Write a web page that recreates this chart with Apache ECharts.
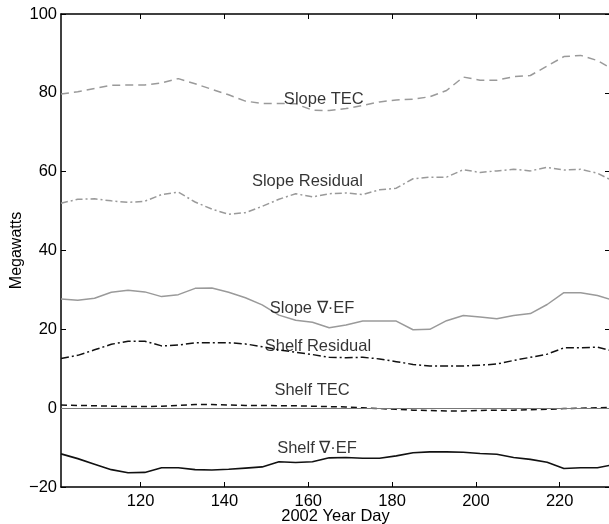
<!DOCTYPE html>
<html>
<head>
<meta charset="utf-8">
<script src="https://cdn.jsdelivr.net/npm/echarts@6/dist/echarts.min.js"></script>
<style>
  html, body { margin: 0; padding: 0; background: #fff; }
  #chart { width: 609px; height: 524px; }
</style>
</head>
<body>
<div id="chart"></div>
<script>
// Energy budget terms, every 4 days of 2002
const days = [101,105,109,113,117,121,125,129,133,137,141,145,149,153,157,161,165,169,173,177,181,185,189,193,197,201,205,209,213,217,221,225,229,233];

const slopeTEC      = [79.7,80.3,81.1,81.9,82.0,82.0,82.5,83.6,82.3,80.9,79.5,77.9,77.3,77.3,77.2,75.6,75.5,76.0,76.8,77.7,78.2,78.4,79.0,80.6,84.0,83.2,83.2,84.1,84.4,86.8,89.2,89.5,88.2,85.8];
const slopeResidual = [52.0,53.0,53.1,52.6,52.2,52.5,54.2,54.8,52.3,50.5,49.2,49.6,51.2,53.0,54.4,53.6,54.4,54.6,54.2,55.4,55.8,58.2,58.6,58.6,60.5,59.8,60.2,60.6,60.2,61.1,60.4,60.6,59.6,57.5];
const slopeDivEF    = [27.7,27.4,27.9,29.4,29.9,29.5,28.3,28.8,30.4,30.5,29.4,28.0,26.2,23.6,22.3,21.8,20.4,21.1,22.1,22.1,22.1,19.9,20.0,22.2,23.5,23.1,22.7,23.5,24.0,26.3,29.3,29.3,28.6,27.3];
const shelfResidual = [12.6,13.4,14.8,16.2,17.0,17.0,15.8,16.0,16.6,16.6,16.6,16.3,15.6,14.8,14.2,13.6,12.9,12.8,12.9,12.5,11.8,11.1,10.7,10.7,10.7,10.9,11.2,12.1,12.9,13.7,15.3,15.3,15.5,14.4];
const shelfTEC      = [0.8,0.7,0.6,0.5,0.4,0.4,0.5,0.7,0.9,0.9,0.8,0.7,0.7,0.6,0.6,0.5,0.4,0.3,0.1,-0.1,-0.3,-0.5,-0.6,-0.7,-0.7,-0.6,-0.5,-0.5,-0.4,-0.3,-0.1,0.0,0.1,0.2];
const shelfDivEF    = [-11.6,-12.8,-14.2,-15.6,-16.4,-16.3,-15.1,-15.1,-15.6,-15.7,-15.5,-15.2,-14.9,-13.6,-13.8,-13.6,-12.6,-12.5,-12.7,-12.7,-12.1,-11.3,-11.1,-11.1,-11.2,-11.5,-11.7,-12.5,-13.0,-13.7,-15.3,-15.1,-15.1,-14.3];

// Tick labels
const xTicks = [120,140,160,180,200,220];

// In-plot curve labels (day, megawatts)
const labelText  = ['Slope TEC','Slope Residual','Slope \u2207\u00B7EF','Shelf Residual','Shelf TEC','Shelf \u2207\u00B7EF'];
const labelDay   = [163.7,159.8,160.9,162.3,160.9,162.1];
const labelValue = [78.4,57.4,25.4,15.7,4.4,-10.2];

const FONT = '"Liberation Sans", Arial, Helvetica, sans-serif';
const GRAY = '#9a9a9a';

function pairs(vals) { return days.map((d, i) => [d, vals[i]]); }

function lineSeries(name, vals, color, type, width) {
  return {
    name, type: 'line', data: pairs(vals), showSymbol: false, symbol: 'none',
    clip: true, silent: true, animation: false,
    lineStyle: { color, width, type }
  };
}

const chart = echarts.init(document.getElementById('chart'), null, { renderer: 'canvas' });

const axisLine = { show: true, onZero: false, lineStyle: { color: '#000', width: 1.5 } };
const inTick = { show: true, inside: true, length: 5, lineStyle: { color: '#000', width: 1 } };
const minusSign = v => String(v).replace('-', '\u2212');

chart.setOption({
  animation: false,
  backgroundColor: '#fff',
  grid: { left: 61, top: 14, right: -1, bottom: 37, containLabel: false, outerBoundsMode: 'none' },
  xAxis: [{
    type: 'value', min: 101, max: 232, position: 'bottom',
    name: '2002 Year Day', nameLocation: 'middle', nameGap: 21, nameMoveOverlap: false,
    nameTextStyle: { fontFamily: FONT, fontSize: 16.5, color: '#000' },
    axisLine,
    axisTick: Object.assign({}, inTick, { customValues: xTicks }),
    axisLabel: { customValues: xTicks, fontFamily: FONT, fontSize: 16.5, color: '#000', margin: 6 },
    splitLine: { show: false }
  }, {
    type: 'value', min: 101, max: 232, position: 'top',
    axisLine,
    axisTick: Object.assign({}, inTick, { customValues: xTicks }),
    axisLabel: { show: false },
    splitLine: { show: false }
  }],
  yAxis: [{
    type: 'value', min: -20, max: 100, interval: 20, position: 'left',
    name: 'Megawatts', nameLocation: 'middle', nameGap: 36, nameRotate: 90, nameMoveOverlap: false,
    nameTextStyle: { fontFamily: FONT, fontSize: 16, color: '#000' },
    axisLine, axisTick: inTick,
    axisLabel: { fontFamily: FONT, fontSize: 16.5, color: '#000', margin: 4, formatter: minusSign },
    splitLine: { show: false }
  }, {
    type: 'value', min: -20, max: 100, interval: 20, position: 'right',
    axisLine, axisTick: inTick,
    axisLabel: { show: false },
    splitLine: { show: false }
  }],
  series: [
    lineSeries('Slope TEC', slopeTEC, GRAY, [8, 5], 1.5),
    lineSeries('Slope Residual', slopeResidual, GRAY, [7, 3, 2, 3], 1.5),
    lineSeries('Slope \u2207\u00B7EF', slopeDivEF, GRAY, 'solid', 1.5),
    lineSeries('Shelf Residual', shelfResidual, '#111', [8, 3, 2, 3], 1.5),
    Object.assign(lineSeries('Shelf TEC', shelfTEC, '#111', [6, 4], 1.5), {
      markLine: {
        silent: true, symbol: 'none', label: { show: false },
        lineStyle: { color: '#777', width: 1.2, type: 'solid' },
        data: [{ yAxis: 0 }]
      }
    }),
    lineSeries('Shelf \u2207\u00B7EF', shelfDivEF, '#111', 'solid', 1.6),
    {
      name: 'labels', type: 'scatter', symbolSize: 0, silent: true,
      data: labelText.map((t, i) => ({ value: [labelDay[i], labelValue[i]], name: t })),
      label: {
        show: true, position: 'inside', formatter: p => p.name,
        fontFamily: FONT, fontSize: 16.5, color: '#000'
      },
      z: 10
    }
  ]
});
</script>
</body>
</html>
